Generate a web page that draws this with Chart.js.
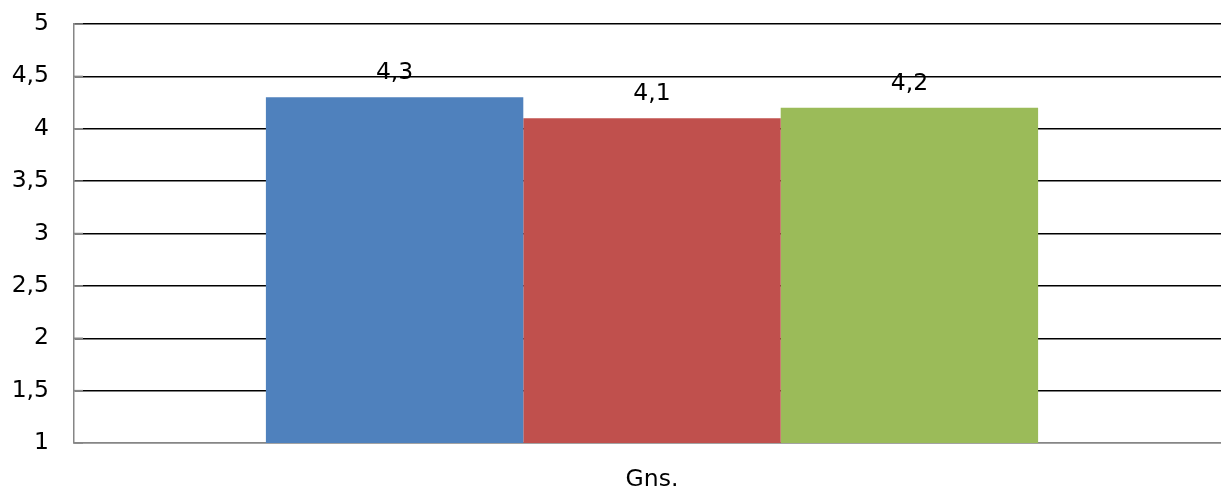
<!DOCTYPE html>
<html>
<head>
<meta charset="utf-8">
<script src="https://cdn.jsdelivr.net/npm/chart.js@4/dist/chart.umd.min.js"></script>
<style>
  html, body { margin: 0; padding: 0; background: #fff; overflow: hidden; width: 1221px; height: 490px; }
  #wrap { width: 1230px; height: 490px; }
</style>
</head>
<body>
<div id="wrap"><canvas id="c" width="1230" height="490"></canvas></div>
<script>
const categories = ['Gns.'];
const seriesNames = ['Serie 1', 'Serie 2', 'Serie 3'];
const seriesA = [4.3];
const seriesB = [4.1];
const seriesC = [4.2];
const yTicks = [1, 1.5, 2, 2.5, 3, 3.5, 4, 4.5, 5];
const colors = ['#4F81BD', '#C0504D', '#9BBB59'];

const FONT = 'DejaVu Sans';
const FONT_SIZE = 23.5;
const fmt = v => String(v).replace('.', ',');

const barLabels = {
  id: 'barLabels',
  afterDatasetsDraw(chart) {
    const ctx = chart.ctx;
    ctx.save();
    ctx.font = FONT_SIZE + 'px "' + FONT + '"';
    ctx.fillStyle = '#000';
    ctx.textAlign = 'center';
    ctx.textBaseline = 'alphabetic';
    chart.data.datasets.forEach((ds, i) => {
      const meta = chart.getDatasetMeta(i);
      meta.data.forEach((bar, j) => {
        ctx.fillText(fmt(ds.data[j]), bar.x, bar.y - 18);
      });
    });
    ctx.restore();
  }
};

const tickStubs = {
  id: 'tickStubs',
  beforeDatasetsDraw(chart) {
    const y = chart.scales.y;
    const ctx = chart.ctx;
    ctx.save();
    ctx.strokeStyle = '#868686';
    ctx.lineWidth = 1.5;
    y.ticks.forEach(t => {
      const py = y.getPixelForValue(t.value);
      ctx.beginPath();
      ctx.moveTo(chart.chartArea.left, py);
      ctx.lineTo(chart.chartArea.left + 9, py);
      ctx.stroke();
    });
    ctx.restore();
  }
};

new Chart(document.getElementById('c'), {
  type: 'bar',
  data: {
    labels: categories,
    datasets: [
      { label: seriesNames[0], data: seriesA, backgroundColor: colors[0] },
      { label: seriesNames[1], data: seriesB, backgroundColor: colors[1] },
      { label: seriesNames[2], data: seriesC, backgroundColor: colors[2] }
    ]
  },
  options: {
    responsive: false,
    animation: false,
    events: [],
    layout: { padding: { top: 24, right: 0, bottom: 0, left: 0 } },
    datasets: { bar: { categoryPercentage: 0.668, barPercentage: 1, borderWidth: 0 } },
    plugins: { legend: { display: false }, tooltip: { enabled: false } },
    scales: {
      x: {
        grid: { display: false, drawTicks: false },
        border: { display: true, color: '#868686', width: 1.5 },
        ticks: { color: '#000', font: { family: FONT, size: FONT_SIZE }, padding: 23 },
        afterFit(s) { s.height = 47; s.paddingLeft = 0; s.paddingRight = 0; }
      },
      y: {
        min: 1, max: 5,
        afterBuildTicks(s) { s.ticks = yTicks.map(v => ({ value: v })); },
        grid: {
          drawTicks: false,
          color: c => (c.tick && c.tick.value === 1) ? '#868686' : '#000',
          lineWidth: 1.5
        },
        border: { display: true, color: '#868686', width: 1.5 },
        ticks: { color: '#000', font: { family: FONT, size: FONT_SIZE }, padding: 25, callback: v => fmt(v) },
        afterFit(s) { s.width = 74; s.paddingTop = 0; s.paddingBottom = 0; }
      }
    }
  },
  plugins: [barLabels, tickStubs]
});
</script>
</body>
</html>
